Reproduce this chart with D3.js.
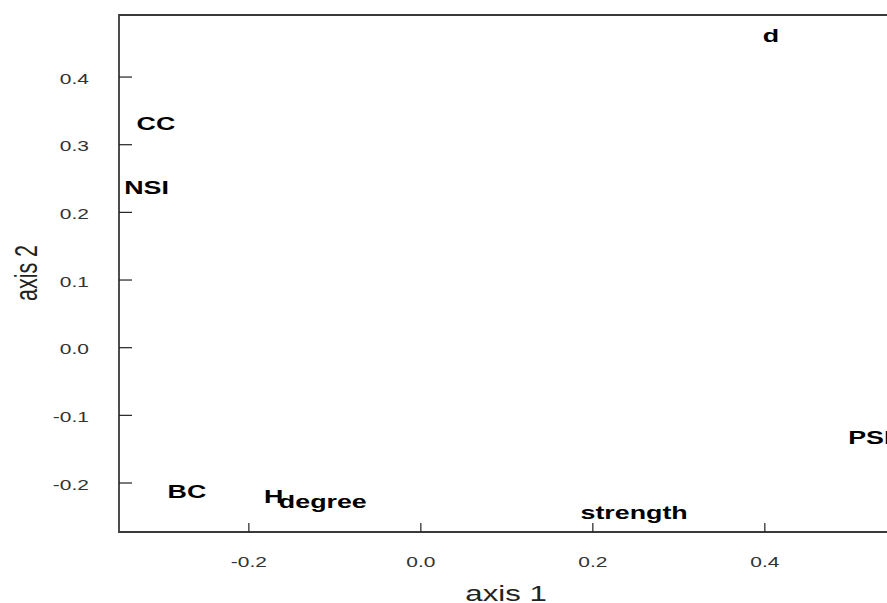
<!DOCTYPE html>
<html>
<head>
<meta charset="utf-8">
<script src="https://cdn.jsdelivr.net/npm/d3@7"></script>
<style>
  body { margin: 0; background: #fff; }
  svg { display: block; font-family: "Liberation Sans", Arial, sans-serif; }
</style>
</head>
<body>
<svg id="chart"></svg>
<script>
// variable labels and their ordination scores
const labels = ["d", "CC", "NSI", "BC", "H", "degree", "strength", "PSI"];
const axis1 = [0.407, -0.308, -0.319, -0.272, -0.171, -0.114, 0.248, 0.522];
const axis2 = [0.462, 0.332, 0.2375, -0.213, -0.219, -0.2265, -0.243, -0.133];

const xTicks = [-0.2, 0.0, 0.2, 0.4];
const yTicks = [-0.2, -0.1, 0.0, 0.1, 0.2, 0.3, 0.4];

const svgWidth = 887, svgHeight = 603;
const sx = 1.45; // the picture is stretched sideways

const svg = d3.select("#chart")
    .attr("width", svgWidth)
    .attr("height", svgHeight);

// plot frame runs off the right edge
const plotLeft = 119, plotTop = 15, plotBottom = 532, plotRight = 902;

const x = d3.scaleLinear()
    .domain([-0.351, 0.5595])
    .range([plotLeft, plotRight]);

const y = d3.scaleLinear()
    .domain([-0.2724, 0.4917])
    .range([plotBottom, plotTop]);

// plain hyphen for negatives, like the original
const fmt = d => d3.format(".1f")(d).replace("\u2212", "-");

// frame (left, top, bottom)
svg.append("path")
    .attr("d", "M" + plotRight + "," + plotTop + "H" + plotLeft + "V" + plotBottom + "H" + plotRight)
    .attr("fill", "none")
    .attr("stroke", "#3a3a3a")
    .attr("stroke-width", 1.8);

// y ticks point inward
const yt = svg.append("g");
yt.selectAll("line")
    .data(yTicks)
    .enter().append("line")
    .attr("x1", plotLeft)
    .attr("x2", plotLeft + 13)
    .attr("y1", d => y(d))
    .attr("y2", d => y(d))
    .attr("stroke", "#222")
    .attr("stroke-width", 1.2);
yt.selectAll("text")
    .data(yTicks)
    .enter().append("text")
    .attr("transform", d => "translate(89," + y(d) + ") scale(1.4,1)")
    .attr("dy", "0.45em")
    .attr("text-anchor", "end")
    .attr("font-size", 15)
    .attr("fill", "#333")
    .text(d => fmt(d));

// x ticks point inward
const xt = svg.append("g");
xt.selectAll("line")
    .data(xTicks)
    .enter().append("line")
    .attr("x1", d => x(d))
    .attr("x2", d => x(d))
    .attr("y1", plotBottom)
    .attr("y2", plotBottom - 9)
    .attr("stroke", "#222")
    .attr("stroke-width", 1.2);
xt.selectAll("text")
    .data(xTicks)
    .enter().append("text")
    .attr("transform", d => "translate(" + x(d) + ",567) scale(1.4,1)")
    .attr("text-anchor", "middle")
    .attr("font-size", 15)
    .attr("fill", "#333")
    .text(d => fmt(d));

// axis titles
svg.append("text")
    .attr("transform", "translate(506,601) scale(" + sx + ",1)")
    .attr("text-anchor", "middle")
    .attr("font-size", 21.5)
    .attr("fill", "#222")
    .text("axis 1");

svg.append("text")
    .attr("transform", "translate(37,273) scale(" + sx + ",1) rotate(-90)")
    .attr("text-anchor", "middle")
    .attr("font-size", 21.5)
    .attr("fill", "#222")
    .text("axis 2");

// variable labels
svg.append("g").selectAll("text")
    .data(labels)
    .enter().append("text")
    .attr("transform", (d, i) => "translate(" + x(axis1[i]) + "," + y(axis2[i]) + ") scale(" + sx + ",1)")
    .attr("dy", "0.36em")
    .attr("text-anchor", "middle")
    .attr("font-size", 18.5)
    .attr("font-weight", "bold")
    .attr("fill", "#000")
    .text(d => d);
</script>
</body>
</html>
